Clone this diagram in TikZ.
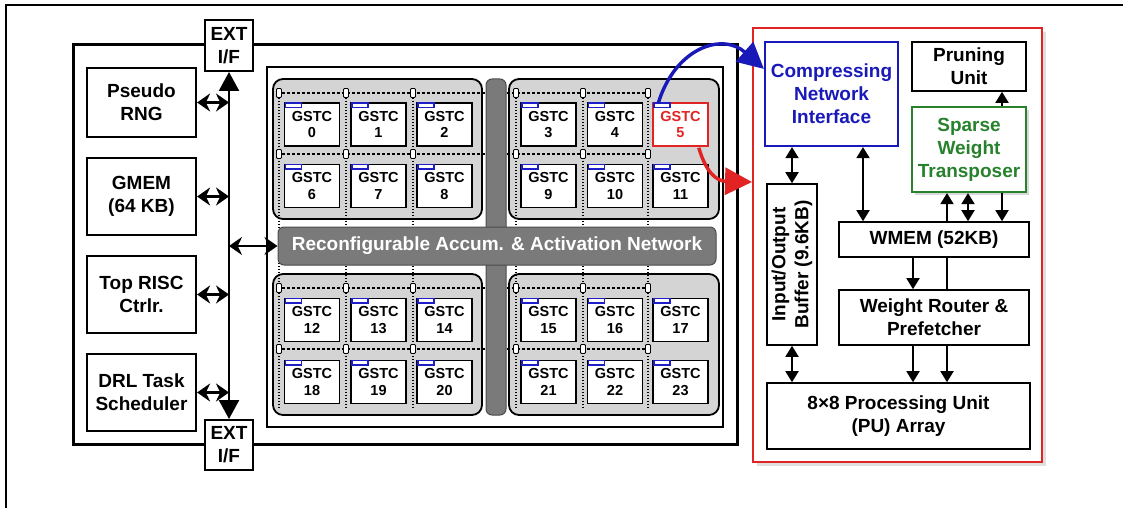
\documentclass[tikz,border=0pt]{standalone}
\usepackage{fontspec}
\setmainfont{Liberation Sans}
\usetikzlibrary{arrows.meta,calc,shadows}
\definecolor{cnblue}{RGB}{25,25,185}
\definecolor{swgreen}{RGB}{40,130,45}
\definecolor{rd}{RGB}{225,35,35}
\definecolor{clgray}{RGB}{212,212,212}
\definecolor{bargray}{RGB}{122,122,122}
\definecolor{tabblue}{RGB}{30,30,200}
\newcommand\bigf{\bfseries\fontsize{19}{23}\selectfont}
\newcommand\gsf{\bfseries\fontsize{14.5}{16.5}\selectfont}
\pgfdeclarelayer{bgz}
\pgfdeclarelayer{bgl}
\pgfsetlayers{bgz,bgl,main}
\begin{document}
\begin{tikzpicture}[x=1pt,y=-1pt,
  box/.style={draw, fill=white, align=center, inner sep=0pt, font=\bigf},
  lbox/.style={box, line width=2.2pt},
  rbox/.style={box, line width=1.6pt},
  gstc/.style={draw, fill=white, line width=1.5pt, minimum width=55pt, minimum height=43pt, inner sep=0pt, align=center, font=\gsf},
  gs5/.style={draw=rd, text=rd},
  tabbox/.style={draw=tabblue, line width=1.5pt},
  router/.style={draw, fill=white, line width=0.9pt, rounded corners=1pt, minimum width=5pt, minimum height=9pt, inner sep=0pt},
  cluster/.style={draw, fill=clgray, line width=1.8pt, rounded corners=10pt, inner sep=0pt},
  bar/.style={draw=black!70, fill=bargray, line width=1pt, rounded corners=6pt, inner sep=0pt},
  hdash/.style={dash pattern=on 3pt off 2pt, line width=1.2pt},
  vdot/.style={dash pattern=on 1.5pt off 1.5pt, line width=1.1pt},
  lar/.style={{Stealth[length=13pt,width=18pt]}-{Stealth[length=13pt,width=18pt]}, line width=2.6pt},
  bus/.style={{Triangle[length=19pt,width=20pt]}-{Triangle[length=19pt,width=20pt]}, line width=2.4pt},
  rar/.style={-{Triangle[length=11pt,width=13pt]}, line width=1.8pt},
  rdar/.style={{Triangle[length=11pt,width=13pt]}-{Triangle[length=11pt,width=13pt]}, line width=1.8pt},
  rline/.style={line width=1.8pt}
]
\useasboundingbox (0,0) rectangle (1123,508);
% outer page frame
\draw[line width=1.4pt] (6,508) -- (6,5) -- (1123,5);

% main chip box
\node[draw, line width=3pt, minimum width=664pt, minimum height=399pt, inner sep=0pt] (chip) at (405,244.5) {};
\node[draw, line width=2pt, minimum width=456pt, minimum height=360pt, inner sep=0pt] (core) at (495,247) {};

% left boxes
\node[lbox, minimum width=109pt, minimum height=69pt] (prng) at (141.5,102.5) {Pseudo\\RNG};
\node[lbox, minimum width=109pt, minimum height=77pt] (gmem) at (141.5,196.5) {GMEM\\(64 KB)};
\node[lbox, minimum width=109pt, minimum height=77pt] (risc) at (141.5,294.5) {Top RISC\\Ctrlr.};
\node[lbox, minimum width=109pt, minimum height=77pt] (drl) at (141.5,392.5) {DRL Task\\Scheduler};
\node[box, line width=2pt, minimum width=48pt, minimum height=51pt] (ext1) at (229,45.5) {EXT\\I/F};
\node[box, line width=2pt, minimum width=48pt, minimum height=50pt] (ext2) at (229,445) {EXT\\I/F};

\draw[bus] (ext1.south) -- (ext2.north);
\foreach \b in {prng,gmem,risc,drl}{
  \draw[lar] (\b.east) -- (\b.east -| ext1.south);
}

% clusters
\begin{pgfonlayer}{bgz}
\node[cluster, minimum width=209pt, minimum height=140pt] (c1) at (377.5,149) {};
\node[cluster, minimum width=210pt, minimum height=140pt] (c2) at (614,149) {};
\node[cluster, minimum width=209pt, minimum height=141pt] (c3) at (377.5,344.5) {};
\node[cluster, minimum width=210pt, minimum height=141pt] (c4) at (614,344.5) {};
\end{pgfonlayer}

% bars
\node[bar, minimum width=20pt, minimum height=336pt] (vbar) at (496,247) {};
\node[bar, minimum width=438pt, minimum height=38pt, text=white, font=\bigf] (net) at (497,246) {Reconfigurable Accum. \& Activation Network};
\draw[lar] (net.west -| ext1.south) -- (net.west);

% routers and NoC lines
\foreach \ry [count=\j] in {93,154,288,349}{
  \foreach \rx [count=\i] in {279,346,413,516,583,648}{
    \node[router] (r\i\j) at (\rx,\ry) {};
  }
}
\begin{pgfonlayer}{bgl}
\foreach \j in {1,2,3,4}{
  \draw[hdash] (r1\j) -- (r6\j);
}
\foreach \i in {1,...,6}{
  \coordinate (vb\i) at ($(r\i1)+(0,315)$);
  \draw[vdot] (r\i1) -- (vb\i);
}
\end{pgfonlayer}

% GSTC tiles
\foreach \gy [count=\r from 0] in {124.5,186,320,382}{
  \foreach \gx [count=\c from 0] in {312,378.5,444.5,548.5,615,680.5}{
    \pgfmathtruncatemacro\n{\r*6+\c}
    \node[gstc, gs\n/.try] (g\n) at (\gx,\gy) {GSTC\\\n};
    \draw[tabbox] ($(g\n.north west)+(1.5,0.8)$) rectangle ++(16,4.5);
  }
}

% right accelerator
\node[draw=rd, fill=white, line width=2pt, minimum width=289pt, minimum height=434pt, inner sep=0pt,
      drop shadow={shadow xshift=4pt, shadow yshift=-4pt, fill=black!25, opacity=0.5}] (acc) at (897.5,245) {};
\node[box, draw=cnblue, text=cnblue, line width=2.2pt, minimum width=133pt, minimum height=104pt] (cni) at (831.5,94) {Compressing\\Network\\Interface};
\node[rbox, minimum width=114pt, minimum height=49pt] (prune) at (969,66.5) {Pruning\\Unit};
\node[box, draw=swgreen, text=swgreen, line width=2.2pt, minimum width=114pt, minimum height=85pt,
      drop shadow={shadow xshift=3pt, shadow yshift=-3pt, fill=black!30, opacity=0.5}] (swt) at (969,149.5) {Sparse\\Weight\\Transposer};
\node[rbox, minimum width=161pt, minimum height=50pt, rotate=90] (buf) at (792,264.5) {Input/Output\\Buffer (9.6KB)};
\node[rbox, minimum width=190pt, minimum height=35pt] (wmem) at (934,239.5) {WMEM (52KB)};
\node[rbox, minimum width=190pt, minimum height=55pt] (wr) at (934,317.5) {Weight Router \&\\Prefetcher};
\node[rbox, minimum width=263pt, minimum height=66pt] (pu) at (898.5,416) {8×8 Processing Unit\\(PU) Array};

\coordinate (xa) at (863,0);
\coordinate (xb) at (913,0);
\coordinate (xc) at (947,0);
\coordinate (xd) at (968,0);
\coordinate (xe) at (1002,0);
\draw[rdar] (buf.east |- cni.south) -- (buf.east);
\draw[rdar] (buf.west) -- (buf.west |- pu.north);
\draw[rdar] (xa |- cni.south) -- (xa |- wmem.north);
\draw[rar] (xc |- wmem.north) -- (xc |- swt.south);
\draw[rdar] (xd |- wmem.north) -- (xd |- swt.south);
\draw[rar] (xe |- swt.south) -- (xe |- wmem.north);
\draw[rar] (xe |- swt.north) -- (xe |- prune.south);
\draw[rar] (xb |- wmem.south) -- (xb |- wr.north);
\draw[rline] (xc |- wmem.south) -- (xc |- wr.north);
\draw[rar] (xb |- wr.south) -- (xb |- pu.north);
\draw[rar] (xc |- wr.south) -- (xc |- pu.north);

% curved arrows from GSTC 5
\coordinate (bend) at ($(cni.north west)+(0,28)$);
\coordinate (rend) at ($(acc.north west)+(0,155)$);
\draw[cnblue, line width=3.4pt, -{Triangle[length=26pt,width=26pt]}]
  ($(g5.north west)+(6,1)$) .. controls (675,48) and (722,32) .. (bend);
\draw[rd, line width=3.4pt, -{Triangle[length=27pt,width=27pt]}]
  ($(g5.south east)+(-10,1)$) .. controls (706,172) and (716,181) .. (rend);
\end{tikzpicture}
\end{document}
